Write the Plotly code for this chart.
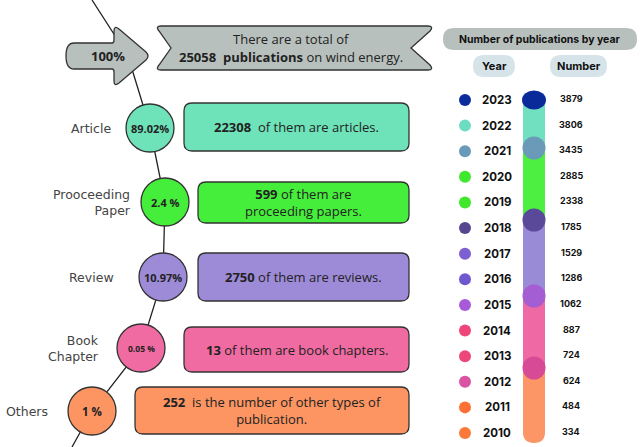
import plotly.graph_objects as go

# ---------------- data ----------------
total_pubs = 25058
categories = ["Article", "Prooceeding<br>Paper", "Review", "Book<br>Chapter", "Others"]
cat_percent = ["89.02%", "2.4 %", "10.97%", "0.05 %", "1 %"]
cat_counts = [22308, 599, 2750, 13, 252]
cat_sentences = [
    "<b>{}</b>  of them are articles.",
    "<b>{}</b> of them are<br>proceeding papers.",
    "<b>{}</b> of them are reviews.",
    "<b>{}</b> of them are book chapters.",
    "<b>{}</b>  is the number of other types of<br>publication.",
]
years = [2023, 2022, 2021, 2020, 2019, 2018, 2017, 2016, 2015, 2014, 2013, 2012, 2011, 2010]
year_counts = [3879, 3806, 3435, 2885, 2338, 1785, 1529, 1286, 1062, 887, 724, 624, 484, 334]

# ---------------- styles / layout ----------------
W, H = 640, 447
cat_colors = ["#6ee3b9", "#46ee3c", "#9d8bd8", "#f06ba1", "#fc9562"]
year_dot_colors = ["#0b2c9c", "#6ddcc0", "#6a9ab9", "#3fe82d", "#3fe82d", "#56468f", "#7c5fd1",
                   "#6f57cf", "#a75bd8", "#f0457b", "#ec467a", "#d953a2", "#fc7036", "#fb7a3a"]
GRAY = "#b8c0bd"
PILL = "#d6e4ea"
OUT = "#333333"

# pipeline geometry
circ_c = [(150, 128), (165, 202), (163, 277), (141, 348), (92, 411)]
circ_r = 24
pct_size = [11, 11, 11, 8.5, 11.5]
box_x = [(184, 409), (198, 409), (198, 409), (184, 409), (135, 409)]
box_y = [(103, 151), (182, 223), (253, 301), (327, 372), (387, 434)]
label_x = [113, 133, 116, 101, 50]

# year panel geometry
row_top, row_bot = 100, 433
row_y = [row_top + i * (row_bot - row_top) / (len(years) - 1) for i in range(len(years))]
bar_x0, bar_x1 = 523, 545
bar_bottom = 443
seg_bounds = [100, 148, 220, 296, 368]
seg_colors = ["#70e0c0", "#4df040", "#9a8bd6", "#ef69a5", "#fd9666"]
mark_colors = ["#0b2a9a", "#6a9ab8", "#5a4898", "#a45dd2", "#d64a96"]

shapes = []
ann = []


def rrect(x0, y0, x1, y1, r):
    return (f"M {x0+r},{y0} L {x1-r},{y0} Q {x1},{y0} {x1},{y0+r} L {x1},{y1-r} Q {x1},{y1} {x1-r},{y1} "
            f"L {x0+r},{y1} Q {x0},{y1} {x0},{y1-r} L {x0},{y0+r} Q {x0},{y0} {x0+r},{y0} Z")


fig = go.Figure()

# connecting line of the pipeline (drawn below shapes)
line_x = [92, 128] + [c[0] for c in circ_c] + [72]
line_y = [0, 56] + [c[1] for c in circ_c] + [447]
fig.add_trace(go.Scatter(x=line_x, y=line_y, mode="lines",
                         line=dict(color="#222222", width=1.3), hoverinfo="skip"))

# arrow "100%"
shapes.append(dict(type="path", path=("M 74,43 L 112,43 Q 114,43 114,40 L 114,31 Q 114,25 119,29 "
                                      "L 146,52 Q 150,56 146,60 L 119,83 Q 114,87 114,81 L 114,72 "
                                      "Q 114,69 112,69 L 74,69 Q 66,69 66,56 Q 66,43 74,43 Z"),
                   fillcolor=GRAY, line=dict(color=OUT, width=1.3)))
ann.append(dict(x=108, y=56, text="<b>100%</b>", font=dict(size=13, color="#222", family="Open Sans")))

# banner
shapes.append(dict(type="path", path=("M 161,26 L 428,26 Q 434,26 430,31 L 411,48 L 430,65 Q 434,70 428,70 "
                                      "L 161,70 Q 155,70 159,65 L 171,48 L 159,31 Q 155,26 161,26 Z"),
                   fillcolor=GRAY, line=dict(color=OUT, width=1.3)))
ann.append(dict(x=291, y=39, text="There are a total of",
                font=dict(size=13, color="#222", family="Open Sans")))
ann.append(dict(x=291, y=57, text=f"<b>{total_pubs}</b>  <b>publications</b> on wind energy.",
                font=dict(size=13, color="#222", family="Open Sans")))

# categories
for i in range(len(categories)):
    cx, cy = circ_c[i]
    shapes.append(dict(type="circle", x0=cx - circ_r, x1=cx + circ_r, y0=cy - circ_r, y1=cy + circ_r,
                       fillcolor=cat_colors[i], line=dict(color=OUT, width=1.3)))
    ann.append(dict(x=cx, y=cy, text=f"<b>{cat_percent[i]}</b>",
                    font=dict(size=pct_size[i], color="#222", family="Open Sans")))
    x0, x1 = box_x[i]
    y0, y1 = box_y[i]
    shapes.append(dict(type="path", path=rrect(x0, y0, x1, y1, 8),
                       fillcolor=cat_colors[i], line=dict(color=OUT, width=1.3)))
    ann.append(dict(x=(x0 + x1) / 2, y=(y0 + y1) / 2, text=cat_sentences[i].format(cat_counts[i]),
                    font=dict(size=13, color="#222", family="Open Sans")))
    ann.append(dict(x=label_x[i], y=cy, xanchor="right", align="right", text=categories[i],
                    font=dict(size=12.5, color="#444", family="DejaVu Sans")))

# right panel: pills
shapes.append(dict(type="path", path=rrect(443, 28, 637, 50, 11), fillcolor=GRAY, line=dict(width=0)))
ann.append(dict(x=540, y=39, text="<b>Number of publications by year</b>",
                font=dict(size=10.5, color="#111", family="Inter")))
shapes.append(dict(type="path", path=rrect(473, 55, 515, 77, 11), fillcolor=PILL, line=dict(width=0)))
ann.append(dict(x=494, y=66, text="<b>Year</b>", font=dict(size=11, color="#111", family="Inter")))
shapes.append(dict(type="path", path=rrect(550, 55, 607, 77, 11), fillcolor=PILL, line=dict(width=0)))
ann.append(dict(x=578.5, y=66, text="<b>Number</b>", font=dict(size=11, color="#111", family="Inter")))

# bar segments
bounds = seg_bounds + [bar_bottom]
for k in range(len(seg_colors)):
    t, b = bounds[k], bounds[k + 1]
    if k == len(seg_colors) - 1:
        r = (bar_x1 - bar_x0) / 2
        p = (f"M {bar_x0},{t} L {bar_x1},{t} L {bar_x1},{b-r} Q {bar_x1},{b} {(bar_x0+bar_x1)/2},{b} "
             f"Q {bar_x0},{b} {bar_x0},{b-r} Z")
        shapes.append(dict(type="path", path=p, fillcolor=seg_colors[k], line=dict(width=0)))
    else:
        shapes.append(dict(type="rect", x0=bar_x0, x1=bar_x1, y0=t, y1=b,
                           fillcolor=seg_colors[k], line=dict(width=0)))
bc = (bar_x0 + bar_x1) / 2
for k, yy in enumerate(seg_bounds):
    rx, ry = (12, 9.5) if k == 0 else (11.5, 11.5)
    shapes.append(dict(type="circle", x0=bc - rx, x1=bc + rx, y0=yy - ry, y1=yy + ry,
                       fillcolor=mark_colors[k], line=dict(width=0)))

# year dots, labels, numbers
fig.add_trace(go.Scatter(x=[465] * len(years), y=row_y, mode="markers",
                         marker=dict(size=12, color=year_dot_colors, line=dict(width=0)),
                         hoverinfo="skip"))
for i, yv in enumerate(years):
    ann.append(dict(x=497, y=row_y[i], text=f"<b>{yv}</b>",
                    font=dict(size=11.5, color="#111", family="Inter")))
    ann.append(dict(x=571, y=row_y[i] - 1.5, text=f"<b>{year_counts[i]}</b>",
                    font=dict(size=9, color="#111", family="Inter")))

for a in ann:
    a.setdefault("showarrow", False)
    a.setdefault("xref", "x")
    a.setdefault("yref", "y")
    a.setdefault("yanchor", "middle")

fig.update_layout(
    width=W, height=H, autosize=False,
    margin=dict(l=0, r=0, t=0, b=0),
    paper_bgcolor="white", plot_bgcolor="white",
    showlegend=False,
    shapes=shapes, annotations=ann,
    xaxis=dict(range=[0, W], visible=False, fixedrange=True),
    yaxis=dict(range=[H, 0], visible=False, fixedrange=True),
)
fig.write_html("out.html", config={"displayModeBar": False},
               post_script="document.body.style.margin='0px';document.body.style.overflow='hidden';")
